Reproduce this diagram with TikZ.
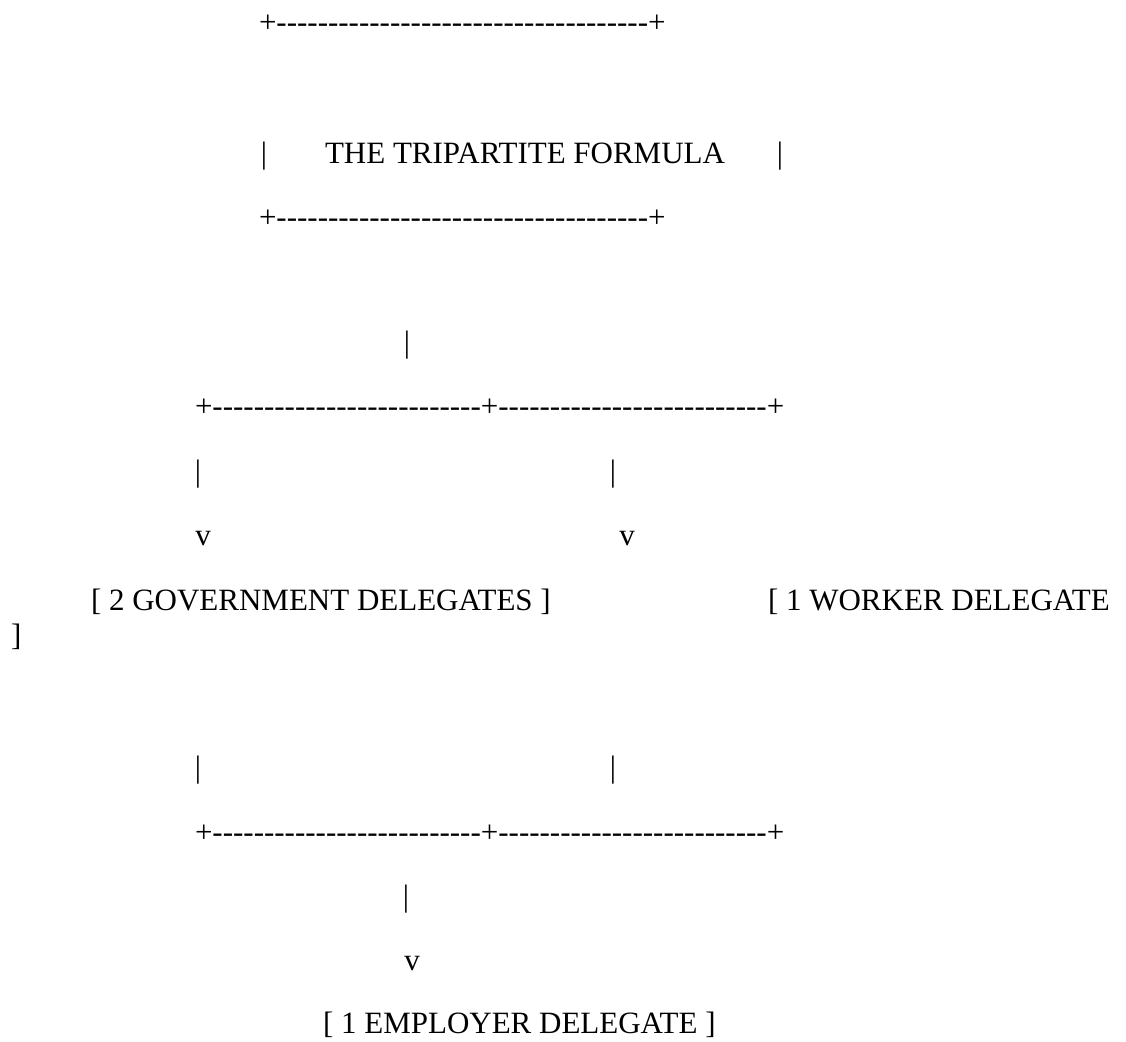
\documentclass[tikz,border=0pt]{standalone}
\usepackage{fontspec}
\setmainfont{Liberation Serif}
\usetikzlibrary{positioning}
\tikzset{
    % Base styles
    asciinode/.style={
        inner sep=0pt, outer sep=0pt, anchor=base west,
        font=\fontsize{15.5}{18}\selectfont, text=black
    },
    % Specific node types
    rulenode/.style={asciinode},
    labelnode/.style={asciinode},
    barnode/.style={asciinode, anchor=base},
    tipnode/.style={asciinode, anchor=base},
}
% a run of single hyphens (no ligatures)
\newcommand{\dashrun}[1]{\foreach \k in {1,...,#1}{-}}

\begin{document}
\begin{tikzpicture}[x=0.5pt, y=-0.5pt]
\useasboundingbox (0,0) rectangle (1126,1042);

% ===== Title box =====
\node (titletop) [rulenode] at (259,33) {+\dashrun{36}+};
\node (titleleft) [barnode] at (264,164) {|};
\node (title) [labelnode] at (325,164) {THE TRIPARTITE FORMULA};
\node (titleright) [barnode] at (780,164) {|};
\node (titlebottom) [rulenode] at (259,228) {+\dashrun{36}+};

% ===== Split =====
\node (splitstem) [barnode] at (407,353) {|};
\node (splitrule) [rulenode] at (195,417) {+\dashrun{26}+\dashrun{26}+};
\node (govstem) [barnode] at (198,482) {|};
\node (workstem) [barnode] at (613,482) {|};
\node (govtip) [tipnode] at (203,546) {v};
\node (worktip) [tipnode] at (627,546) {v};

% ===== Delegates =====
\node (gov) [labelnode] at (91,611) {[ 2 GOVERNMENT DELEGATES ]};
\node (worker) [labelnode] at (768,611) {[ 1 WORKER DELEGATE};
\node (workerend) [labelnode] at (11,646) {]};

% ===== Join =====
\node (govback) [barnode] at (198,778) {|};
\node (workback) [barnode] at (613,778) {|};
\node (joinrule) [rulenode] at (195,843) {+\dashrun{26}+\dashrun{26}+};
\node (joinstem) [barnode] at (406,907) {|};
\node (emptip) [tipnode] at (412,971) {v};
\node (employer) [labelnode] at (323,1034) {[ 1 EMPLOYER DELEGATE ]};

\end{tikzpicture}
\end{document}
